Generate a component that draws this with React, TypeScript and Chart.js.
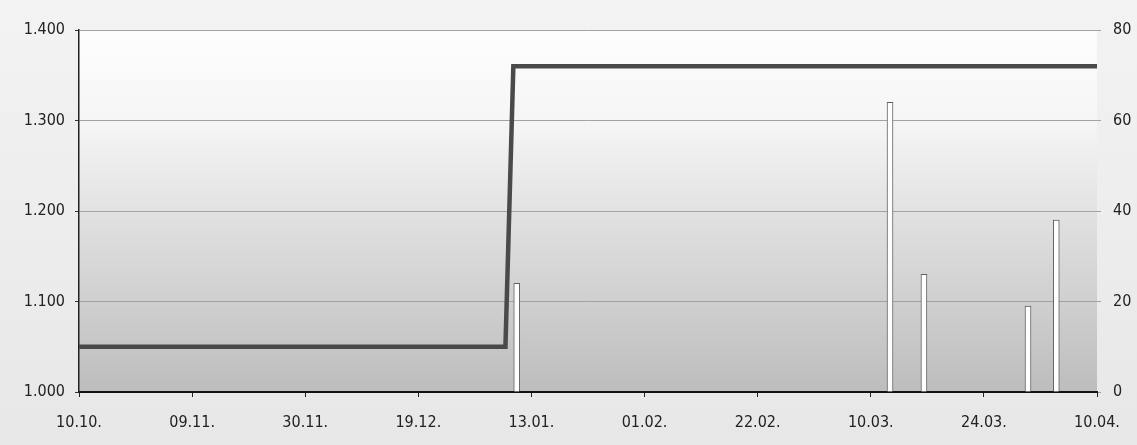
import React, { useEffect, useRef } from "react";
import { Chart, registerables } from "chart.js";

Chart.register(...registerables);

// Tick labels of the x axis (evenly spaced categories on the printed chart)
const tickLabels = ["10.10.", "09.11.", "30.11.", "19.12.", "13.01.", "01.02.", "22.02.", "10.03.", "24.03.", "10.04."];

// Price line (left axis), positions given in tick-label index units
const linePositions = [0, 3.77, 3.84, 9];
const lineValues = [1.05, 1.05, 1.36, 1.36];

// Volume bars (right axis)
const barPositions = [3.87, 7.17, 7.47, 8.39, 8.64];
const barValues = [24, 64, 26, 19, 38];

// Axis ranges
const leftMin = 1.0;
const leftMax = 1.4;
const leftStep = 0.1;
const rightMin = 0;
const rightMax = 80;
const rightStep = 20;

const FONT = "'DejaVu Sans Condensed', 'DejaVu Sans', sans-serif";

const bgPlugin = {
  id: "bgPlugin",
  beforeDraw(chart: any) {
    const { ctx, chartArea: a, width, height } = chart;
    ctx.save();
    const og = ctx.createLinearGradient(0, 0, 0, height);
    og.addColorStop(0, "#f3f3f3");
    og.addColorStop(1, "#e7e7e7");
    ctx.fillStyle = og;
    ctx.fillRect(0, 0, width, height);
    const g = ctx.createLinearGradient(0, a.top, 0, a.bottom);
    g.addColorStop(0, "#fdfdfd");
    g.addColorStop(0.25, "#f6f6f6");
    g.addColorStop(0.55, "#dedede");
    g.addColorStop(1, "#bdbdbd");
    ctx.fillStyle = g;
    ctx.fillRect(a.left, a.top, a.right - a.left, a.bottom - a.top);
    ctx.restore();
  },
};

export default function App() {
  const ref = useRef<HTMLCanvasElement | null>(null);

  useEffect(() => {
    if (!ref.current) return;
    const chart = new Chart(ref.current, {
      type: "bar",
      data: {
        datasets: [
          {
            type: "line",
            label: "Kurs",
            data: linePositions.map((x, i) => ({ x, y: lineValues[i] })),
            yAxisID: "y",
            xAxisID: "x",
            borderColor: "#4a4a4a",
            borderWidth: 4.5,
            pointRadius: 0,
            tension: 0,
            fill: false,
            order: 1,
          } as any,
          {
            type: "bar",
            label: "Volumen",
            data: barPositions.map((x, i) => ({ x, y: barValues[i] })),
            yAxisID: "y1",
            xAxisID: "x",
            backgroundColor: "#ffffff",
            borderColor: "#5e5e5e",
            borderWidth: 1,
            barThickness: 6,
            order: 2,
          } as any,
        ],
      },
      options: {
        responsive: false,
        animation: false,
        devicePixelRatio: 1,
        layout: { padding: { top: 30, left: 0, right: 0, bottom: 0 } },
        plugins: {
          legend: { display: false },
          tooltip: { enabled: false },
        },
        scales: {
          x: {
            type: "linear",
            min: 0,
            max: tickLabels.length - 1,
            offset: false,
            afterFit: (s: any) => {
              s.height = 53;
            },
            ticks: {
              stepSize: 1,
              autoSkip: false,
              maxRotation: 0,
              padding: 16,
              color: "#222222",
              font: { family: FONT, size: 16 },
              callback: (v: any) => tickLabels[Math.round(Number(v))] ?? "",
            },
            grid: {
              offset: false,
              drawOnChartArea: false,
              drawTicks: true,
              tickLength: 5,
              tickColor: "#222222",
            },
            border: { display: true, color: "#111111", width: 2 },
          },
          y: {
            type: "linear",
            position: "left",
            min: leftMin,
            max: leftMax,
            afterFit: (s: any) => {
              s.width = 79;
            },
            ticks: {
              stepSize: leftStep,
              padding: 10,
              color: "#222222",
              font: { family: FONT, size: 16 },
              callback: (v: any) => Number(v).toFixed(3),
            },
            grid: {
              color: "#a2a2a2",
              lineWidth: 1,
              drawTicks: true,
              tickLength: 4,
              tickColor: "#333333",
            },
            border: { display: true, color: "#222222", width: 1.5 },
          },
          y1: {
            type: "linear",
            position: "right",
            min: rightMin,
            max: rightMax,
            afterFit: (s: any) => {
              s.width = 40;
            },
            ticks: {
              stepSize: rightStep,
              padding: 12,
              color: "#222222",
              font: { family: FONT, size: 16 },
            },
            grid: {
              drawOnChartArea: false,
              drawTicks: true,
              tickLength: 4,
              tickColor: "#a2a2a2",
            },
            border: { display: false },
          },
        },
      },
      plugins: [bgPlugin],
    });
    return () => chart.destroy();
  }, []);

  return (
    <div style={{ position: "absolute", left: 0, top: 0, width: 1137, height: 445 }}>
      <canvas ref={ref} width={1137} height={445} style={{ display: "block" }} />
    </div>
  );
}
